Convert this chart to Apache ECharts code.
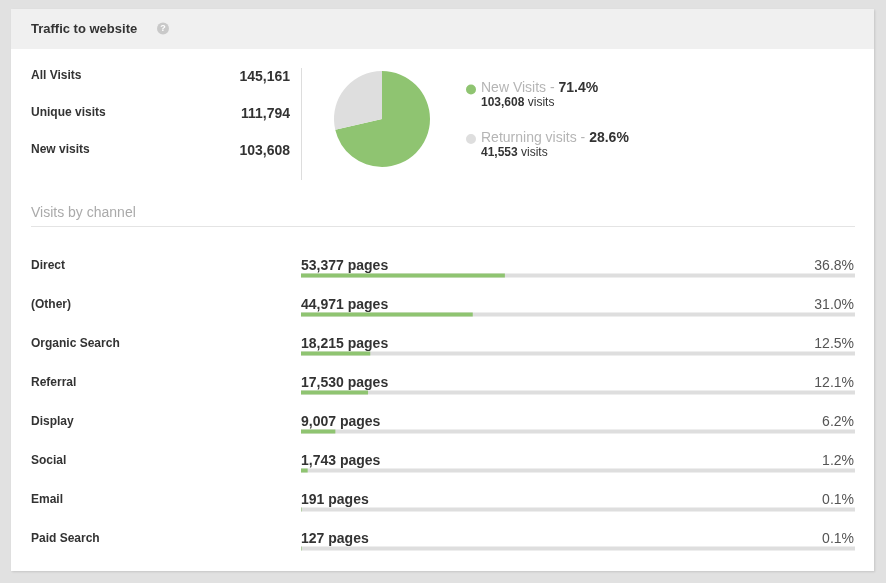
<!DOCTYPE html>
<html>
<head>
<meta charset="utf-8">
<script src="https://cdn.jsdelivr.net/npm/echarts@6/dist/echarts.min.js"></script>
<style>
html,body{margin:0;padding:0;background:#e1e1e1;}
#chart{width:886px;height:583px;}
</style>
</head>
<body>
<div id="chart"></div>
<script>
// ---- data ----
const titleText = 'Traffic to website';
const statLabels = ['All Visits', 'Unique visits', 'New visits'];
const statValues = [145161, 111794, 103608];
const pieNames = ['New Visits', 'Returning visits'];
const pieValues = [103608, 41553];
const sectionTitle = 'Visits by channel';
const channels = ['Direct', '(Other)', 'Organic Search', 'Referral', 'Display', 'Social', 'Email', 'Paid Search'];
const channelPages = [53377, 44971, 18215, 17530, 9007, 1743, 191, 127];
const channelShare = [36.8, 31.0, 12.5, 12.1, 6.2, 1.2, 0.1, 0.1];

// ---- styles ----
const FONT = '"Liberation Sans", Arial, Helvetica, sans-serif';
const GREEN = '#8fc471';
const GREY = '#dedede';
const DARK = '#333333';
const fmt = v => v.toLocaleString('en-US');
const pieTotal = pieValues.reduce((a, b) => a + b, 0);

function txt(text, x, y, size, weight, fill, align) {
  return {
    type: 'text', silent: true,
    style: {
      text, x, y, fontSize: size, fontWeight: weight, fontFamily: FONT, fill,
      align: align || 'left', textAlign: align || 'left',
      verticalAlign: 'middle', textVerticalAlign: 'middle'
    }
  };
}

const graphics = [
  { type: 'rect', silent: true, z: -10, shape: { x: 11, y: 9, width: 863, height: 562 },
    style: { fill: '#ffffff', shadowBlur: 2, shadowColor: 'rgba(0,0,0,0.12)', shadowOffsetX: 1, shadowOffsetY: 1 } },
  { type: 'rect', silent: true, z: -9, shape: { x: 11, y: 9, width: 863, height: 40 }, style: { fill: '#f0f0f0' } },
  txt(titleText, 31, 29, 13, 'bold', DARK),
  { type: 'circle', silent: true, shape: { cx: 163, cy: 28.5, r: 6 }, style: { fill: '#c9c9c9' } },
  txt('?', 163, 29, 9, 'bold', '#ffffff', 'center'),
  { type: 'line', silent: true, shape: { x1: 301.5, y1: 68, x2: 301.5, y2: 180 }, style: { stroke: '#dddddd', lineWidth: 1 } },
  txt(sectionTitle, 31, 213, 14, 'normal', '#aaaaaa'),
  { type: 'line', silent: true, shape: { x1: 31, y1: 226.5, x2: 855, y2: 226.5 }, style: { stroke: '#e4e4e4', lineWidth: 1 } }
];
statLabels.forEach((l, i) => {
  graphics.push(txt(l, 31, 76 + i * 37, 12, 'bold', DARK));
  graphics.push(txt(fmt(statValues[i]), 290, 77 + i * 37, 14, 'bold', DARK, 'right'));
});

const dotIcon = 'path://M0,5 A5,5,0,1,1,10,5 A5,5,0,1,1,0,5 Z M0,22 L10,22';

const option = {
  animation: false,
  textStyle: { fontFamily: FONT },
  graphic: graphics,
  legend: {
    orient: 'vertical',
    left: 466, top: 81.5,
    itemWidth: 10, itemHeight: 22,
    itemGap: 22, itemTextGap: 9,
    padding: 0,
    icon: dotIcon,
    itemStyle: { borderWidth: 0 },
    selectedMode: false,
    data: pieNames,
    formatter: function (name) {
      const i = pieNames.indexOf(name);
      const pct = (pieValues[i] / pieTotal * 100).toFixed(1);
      return '{a|' + name + ' - }{b|' + pct + '%}\n{c|' + fmt(pieValues[i]) + '}{d| visits}';
    },
    textStyle: {
      rich: {
        a: { fontSize: 14, color: '#b5b5b5', lineHeight: 15, fontFamily: FONT },
        b: { fontSize: 14, fontWeight: 'bold', color: DARK, lineHeight: 15, fontFamily: FONT },
        c: { fontSize: 12, fontWeight: 'bold', color: DARK, lineHeight: 14, fontFamily: FONT },
        d: { fontSize: 12, color: DARK, lineHeight: 14, fontFamily: FONT }
      }
    }
  },
  grid: { left: 301, right: 31, top: 256, height: 312 },
  xAxis: { type: 'value', min: 0, max: 100, show: false },
  yAxis: [
    {
      type: 'category', inverse: true, data: channels,
      axisLine: { show: false }, axisTick: { show: false }, splitLine: { show: false },
      axisLabel: {
        align: 'left', margin: 270,
        formatter: v => '{a|' + v + '}\n{g| }',
        rich: {
          a: { fontSize: 12, fontWeight: 'bold', color: DARK, fontFamily: FONT, lineHeight: 14, align: 'left' },
          g: { fontSize: 12, lineHeight: 19 }
        }
      }
    },
    {
      type: 'category', inverse: true, position: 'right', data: channelShare.map(v => v.toFixed(1) + '%'),
      axisLine: { show: false }, axisTick: { show: false }, splitLine: { show: false },
      axisLabel: {
        align: 'right', margin: -1,
        formatter: v => '{a|' + v + '}\n{g| }',
        rich: {
          a: { fontSize: 14, color: '#555555', fontFamily: FONT, lineHeight: 16, align: 'right' },
          g: { fontSize: 12, lineHeight: 19 }
        }
      }
    }
  ],
  series: [
    {
      type: 'pie', center: [382, 119], radius: 48, startAngle: 90, clockwise: true,
      label: { show: false }, labelLine: { show: false }, silent: true,
      itemStyle: { borderWidth: 0 },
      color: [GREEN, GREY],
      data: pieNames.map((n, i) => ({ name: n, value: pieValues[i] }))
    },
    {
      type: 'bar', yAxisIndex: 0, barWidth: 4, silent: true,
      itemStyle: { color: GREEN, borderRadius: 0 },
      showBackground: true,
      backgroundStyle: { color: GREY, borderRadius: 0 },
      data: channelShare,
      label: {
        show: true, position: [0, -7], align: 'left', verticalAlign: 'middle',
        fontSize: 14, fontWeight: 'bold', color: DARK, fontFamily: FONT,
        formatter: p => fmt(channelPages[p.dataIndex]) + ' pages'
      }
    }
  ]
};

const chart = echarts.init(document.getElementById('chart'), null, { renderer: 'canvas' });
chart.setOption(option);
</script>
</body>
</html>
